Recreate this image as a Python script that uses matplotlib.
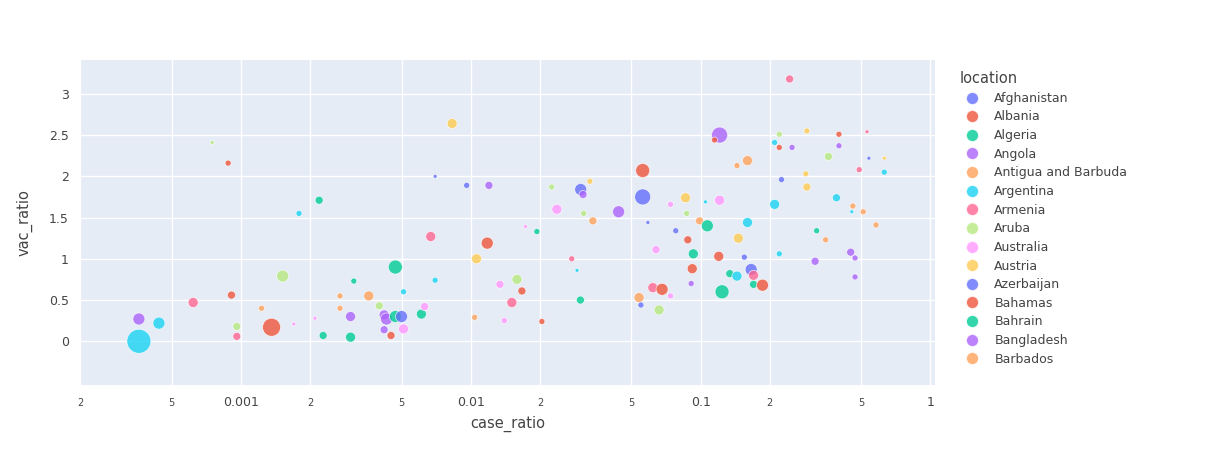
import matplotlib
matplotlib.use("Agg")
import matplotlib.pyplot as plt
from matplotlib.lines import Line2D
from matplotlib.ticker import FixedLocator
import numpy as np

locations = ["Afghanistan", "Albania", "Algeria", "Angola", "Antigua and Barbuda",
             "Argentina", "Armenia", "Aruba", "Australia", "Austria",
             "Azerbaijan", "Bahamas", "Bahrain", "Bangladesh", "Barbados"]
palette = ["#636efa", "#EF553B", "#00cc96", "#ab63fa", "#FFA15A",
           "#19d3f3", "#FF6692", "#B6E880", "#FF97FF", "#FECB52"]

case_ratio = [0.00036, 0.00036, 0.00044, 0.00062, 0.00091, 0.00096, 0.00096, 0.00075, 0.00088, 0.00123,
              0.00136, 0.00152, 0.0017, 0.00179, 0.00219, 0.00228, 0.0021, 0.0027, 0.0027, 0.0030,
              0.0030, 0.0031, 0.0036, 0.0040, 0.0042, 0.0043, 0.0042, 0.0045, 0.0047, 0.0047,
              0.0050, 0.0051, 0.0051, 0.0061, 0.0063, 0.0067, 0.0070, 0.0070, 0.0083, 0.0096,
              0.0106, 0.0104, 0.0120, 0.0118, 0.0134, 0.014, 0.0151, 0.0159, 0.0167, 0.0173,
              0.0194, 0.0204, 0.0225, 0.0237, 0.0275, 0.029, 0.0301, 0.0308, 0.030, 0.031,
              0.033, 0.034, 0.044, 0.054, 0.056, 0.056, 0.055, 0.059, 0.062, 0.064,
              0.066, 0.068, 0.074, 0.074, 0.078, 0.086, 0.087, 0.088, 0.092, 0.093,
              0.091, 0.099, 0.107, 0.105, 0.12, 0.121, 0.121, 0.124, 0.115, 0.134,
              0.144, 0.146, 0.144, 0.16, 0.16, 0.155, 0.166, 0.17, 0.17, 0.186,
              0.21, 0.21, 0.22, 0.22, 0.225, 0.22, 0.244, 0.25, 0.29, 0.287,
              0.29, 0.315, 0.32, 0.36, 0.35, 0.39, 0.40, 0.40, 0.45, 0.47,
              0.46, 0.455, 0.47, 0.49, 0.51, 0.53, 0.54, 0.58, 0.63, 0.63]
vac_ratio = [0.0, 0.27, 0.22, 0.47, 0.56, 0.18, 0.06, 2.41, 2.16, 0.40,
             0.17, 0.79, 0.21, 1.55, 1.71, 0.07, 0.28, 0.40, 0.55, 0.05,
             0.30, 0.73, 0.55, 0.43, 0.32, 0.27, 0.14, 0.07, 0.90, 0.30,
             0.30, 0.60, 0.15, 0.33, 0.42, 1.27, 0.74, 2.0, 2.64, 1.89,
             1.0, 0.29, 1.89, 1.19, 0.69, 0.25, 0.47, 0.75, 0.61, 1.39,
             1.33, 0.24, 1.87, 1.60, 1.0, 0.86, 1.84, 1.78, 0.50, 1.55,
             1.94, 1.46, 1.57, 0.53, 2.07, 1.75, 0.44, 1.44, 0.65, 1.11,
             0.38, 0.63, 0.55, 1.66, 1.34, 1.74, 1.55, 1.23, 0.88, 1.06,
             0.70, 1.46, 1.40, 1.69, 1.03, 2.50, 1.71, 0.60, 2.44, 0.82,
             0.79, 1.25, 2.13, 2.19, 1.44, 1.02, 0.87, 0.80, 0.69, 0.68,
             1.66, 2.41, 2.51, 2.35, 1.96, 1.06, 3.18, 2.35, 1.87, 2.03,
             2.55, 0.97, 1.34, 2.24, 1.23, 1.74, 2.51, 2.37, 1.08, 1.01,
             1.64, 1.57, 0.78, 2.08, 1.57, 2.54, 2.22, 1.41, 2.22, 2.05]
size = [12, 6, 6, 5, 4, 4, 4, 2, 3, 3,
        9, 6, 2, 3, 4, 4, 2, 3, 3, 5,
        5, 3, 5, 4, 5, 6, 4, 4, 7, 6,
        6, 3, 5, 5, 4, 5, 3, 2, 5, 3,
        5, 3, 4, 6, 4, 3, 5, 5, 4, 2,
        3, 3, 3, 5, 3, 2, 6, 4, 4, 3,
        3, 4, 6, 5, 7, 8, 3, 2, 5, 4,
        5, 6, 3, 3, 3, 5, 3, 4, 5, 5,
        3, 4, 6, 2, 5, 8, 5, 7, 3, 4,
        5, 5, 3, 5, 5, 3, 6, 5, 4, 6,
        5, 3, 3, 3, 3, 3, 4, 3, 4, 3,
        3, 4, 3, 4, 3, 4, 3, 3, 4, 3,
        3, 2, 3, 3, 3, 2, 2, 3, 2, 3]
loc_idx = [5, 3, 5, 6, 1, 7, 6, 7, 1, 4,
           11, 7, 8, 5, 2, 12, 8, 4, 14, 12,
           13, 2, 4, 7, 3, 13, 3, 11, 12, 2,
           0, 5, 8, 12, 8, 6, 5, 10, 9, 0,
           9, 14, 13, 1, 8, 8, 6, 7, 11, 8,
           2, 1, 7, 8, 6, 5, 0, 3, 12, 7,
           9, 4, 3, 14, 11, 10, 0, 10, 6, 8,
           7, 1, 8, 8, 0, 9, 7, 1, 11, 2,
           13, 14, 12, 5, 1, 3, 8, 2, 11, 12,
           5, 9, 4, 14, 5, 10, 0, 6, 12, 1,
           5, 5, 7, 1, 10, 5, 6, 3, 9, 9,
           9, 13, 2, 7, 4, 5, 1, 3, 13, 3,
           4, 5, 13, 6, 4, 6, 0, 4, 9, 5]

TEXT = "#444444"

fig = plt.figure(figsize=(12.14, 4.5), dpi=100)
ax = fig.add_axes([80 / 1214, 65 / 450, 855 / 1214, 325 / 450])
ax.set_facecolor("#E5ECF6")
ax.set_xscale("log")
ax.set_xlim(10 ** -3.70, 10 ** 0.02)
ax.set_ylim(-0.53, 3.41)

colors = [palette[i % 10] for i in loc_idx]
s = [(1.44 * r) ** 2 for r in size]
ax.scatter(case_ratio, vac_ratio, s=s, c=colors, alpha=0.8,
           edgecolors="white", linewidths=0.5, zorder=3)

majors = [0.001, 0.01, 0.1, 1]
minors = []
for d in [1e-4, 1e-3, 1e-2, 1e-1]:
    minors += [2 * d, 5 * d]
ax.xaxis.set_major_locator(FixedLocator(majors))
ax.xaxis.set_minor_locator(FixedLocator(minors))
ax.set_xticklabels(["0.001", "0.01", "0.1", "1"])
ax.set_xticklabels(["2", "5"] * 4, minor=True)
ax.set_yticks([0, 0.5, 1, 1.5, 2, 2.5, 3])
ax.set_yticklabels(["0", "0.5", "1", "1.5", "2", "2.5", "3"])
ax.grid(True, which="both", color="white", linewidth=1, zorder=0)
ax.set_axisbelow(True)
ax.tick_params(which="major", length=0, labelsize=9, colors=TEXT, pad=8)
ax.tick_params(axis="x", which="minor", length=0, labelsize=7, colors=TEXT, pad=9)
for sp in ax.spines.values():
    sp.set_visible(False)
ax.set_xlabel("case_ratio", fontsize=10.5, color=TEXT, labelpad=5)
ax.set_ylabel("vac_ratio", fontsize=10.5, color=TEXT, labelpad=12)

handles = [Line2D([], [], marker="o", linestyle="", markersize=9,
                  markerfacecolor=palette[i % 10], markeredgecolor="white",
                  alpha=0.8) for i in range(len(locations))]
leg = fig.legend(handles, locations, title="location", loc="upper left",
                 bbox_to_anchor=(948 / 1214, 1 - 60 / 450), frameon=False,
                 fontsize=9, labelspacing=0.45, handletextpad=0.8,
                 alignment="left", title_fontsize=10.5)
for t in leg.get_texts():
    t.set_color(TEXT)
leg.get_title().set_color(TEXT)

fig.savefig("out.png", dpi=100)
